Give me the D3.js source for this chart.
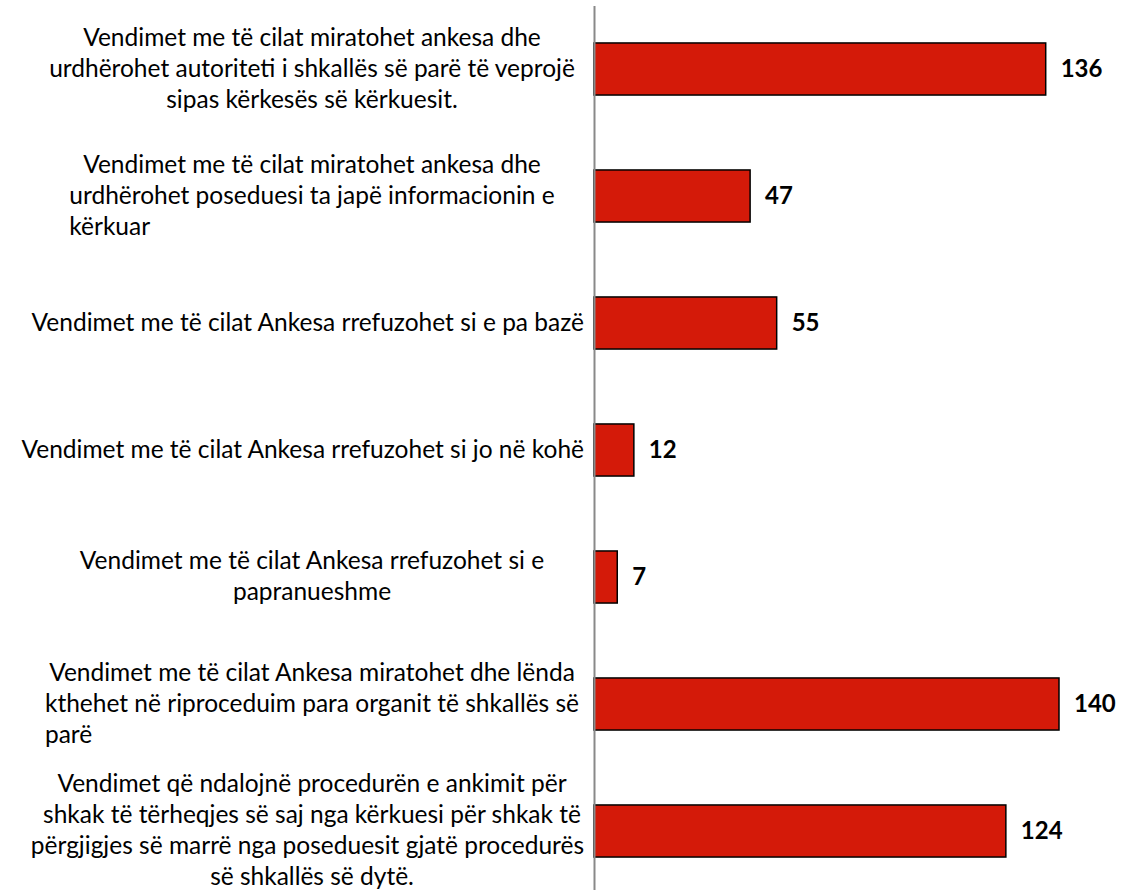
<!DOCTYPE html>
<html>
<head>
<meta charset="utf-8">
<script src="https://cdn.jsdelivr.net/npm/d3@7"></script>
<style>
  body { margin: 0; background: #fff; }
  svg text { font-family: Lato, "Open Sans", sans-serif; fill: #000; }
</style>
</head>
<body>
<svg id="chart" width="1123" height="890"></svg>
<script>
// Data
const categories = [
  ["Vendimet me të cilat miratohet ankesa dhe", "urdhërohet autoriteti i shkallës së parë të veprojë", "sipas kërkesës së kërkuesit."],
  ["Vendimet me të cilat miratohet ankesa dhe", "urdhërohet poseduesi ta japë informacionin e", "kërkuar"],
  ["Vendimet me të cilat Ankesa rrefuzohet si e pa bazë"],
  ["Vendimet me të cilat Ankesa rrefuzohet si jo në kohë"],
  ["Vendimet me të cilat Ankesa rrefuzohet si e", "papranueshme"],
  ["Vendimet me të cilat Ankesa miratohet dhe lënda", "kthehet në riproceduim para organit të shkallës së", "parë"],
  ["Vendimet që ndalojnë procedurën e ankimit për", "shkak të tërheqjes së saj nga kërkuesi për shkak të", "përgjigjes së marrë nga poseduesit gjatë procedurës", "së shkallës së dytë."]
];
const values = [136, 47, 55, 12, 7, 140, 124];

// Layout
const axisX = 594;
const labelCenter = 312;
const labelRight = 584;
const lineH = 31;

const svg = d3.select("#chart");

const y = d3.scaleBand()
  .domain(d3.range(values.length))
  .range([5.5, 894.5])
  .paddingInner(0.59)
  .paddingOuter(0.295);

const x = d3.scaleLinear()
  .domain([0, 140])
  .range([axisX, 1059]);

// Bars
svg.append("g")
  .selectAll("rect")
  .data(values)
  .join("rect")
  .attr("x", axisX)
  .attr("y", (d, i) => y(i))
  .attr("width", d => x(d) - axisX)
  .attr("height", y.bandwidth())
  .attr("fill", "#d41a09")
  .attr("stroke", "#000")
  .attr("stroke-width", 1.5);

// Axis (vertical line only)
const axis = svg.append("g")
  .attr("transform", `translate(${axisX},0)`)
  .call(d3.axisLeft(y).tickSize(0).tickSizeOuter(0).tickFormat(""));
axis.select(".domain").attr("stroke", "#898989").attr("stroke-width", 2);

// Value labels
svg.append("g")
  .selectAll("text")
  .data(values)
  .join("text")
  .attr("x", d => x(d) + 15)
  .attr("y", (d, i) => y(i) + y.bandwidth() / 2)
  .attr("dy", "0.35em")
  .attr("font-size", 24)
  .attr("font-weight", "bold")
  .text(d => d);

// Category labels (multi-line, centred, short last word aligned left like the source)
categories.forEach((lines, i) => {
  const cy = y(i) + y.bandwidth() / 2 - 1;
  const g = svg.append("g");
  const top = cy - (lines.length - 1) * lineH / 2;
  const texts = lines.map((ln, j) => g.append("text")
    .attr("y", top + j * lineH)
    .attr("dy", "0.35em")
    .attr("font-size", 24.5)
    .text(ln));
  const widths = texts.map(t => t.node().getComputedTextLength());
  const lefts = widths.map(w => Math.min(labelCenter, labelRight - w / 2) - w / 2);
  const blockLeft = d3.min(lefts);
  texts.forEach((t, j) => {
    const last = j === lines.length - 1;
    const single = lines[j].indexOf(" ") < 0;
    const left = (lines.length >= 3 && last && single) ? blockLeft : lefts[j];
    t.attr("x", left);
  });
});
</script>
</body>
</html>
